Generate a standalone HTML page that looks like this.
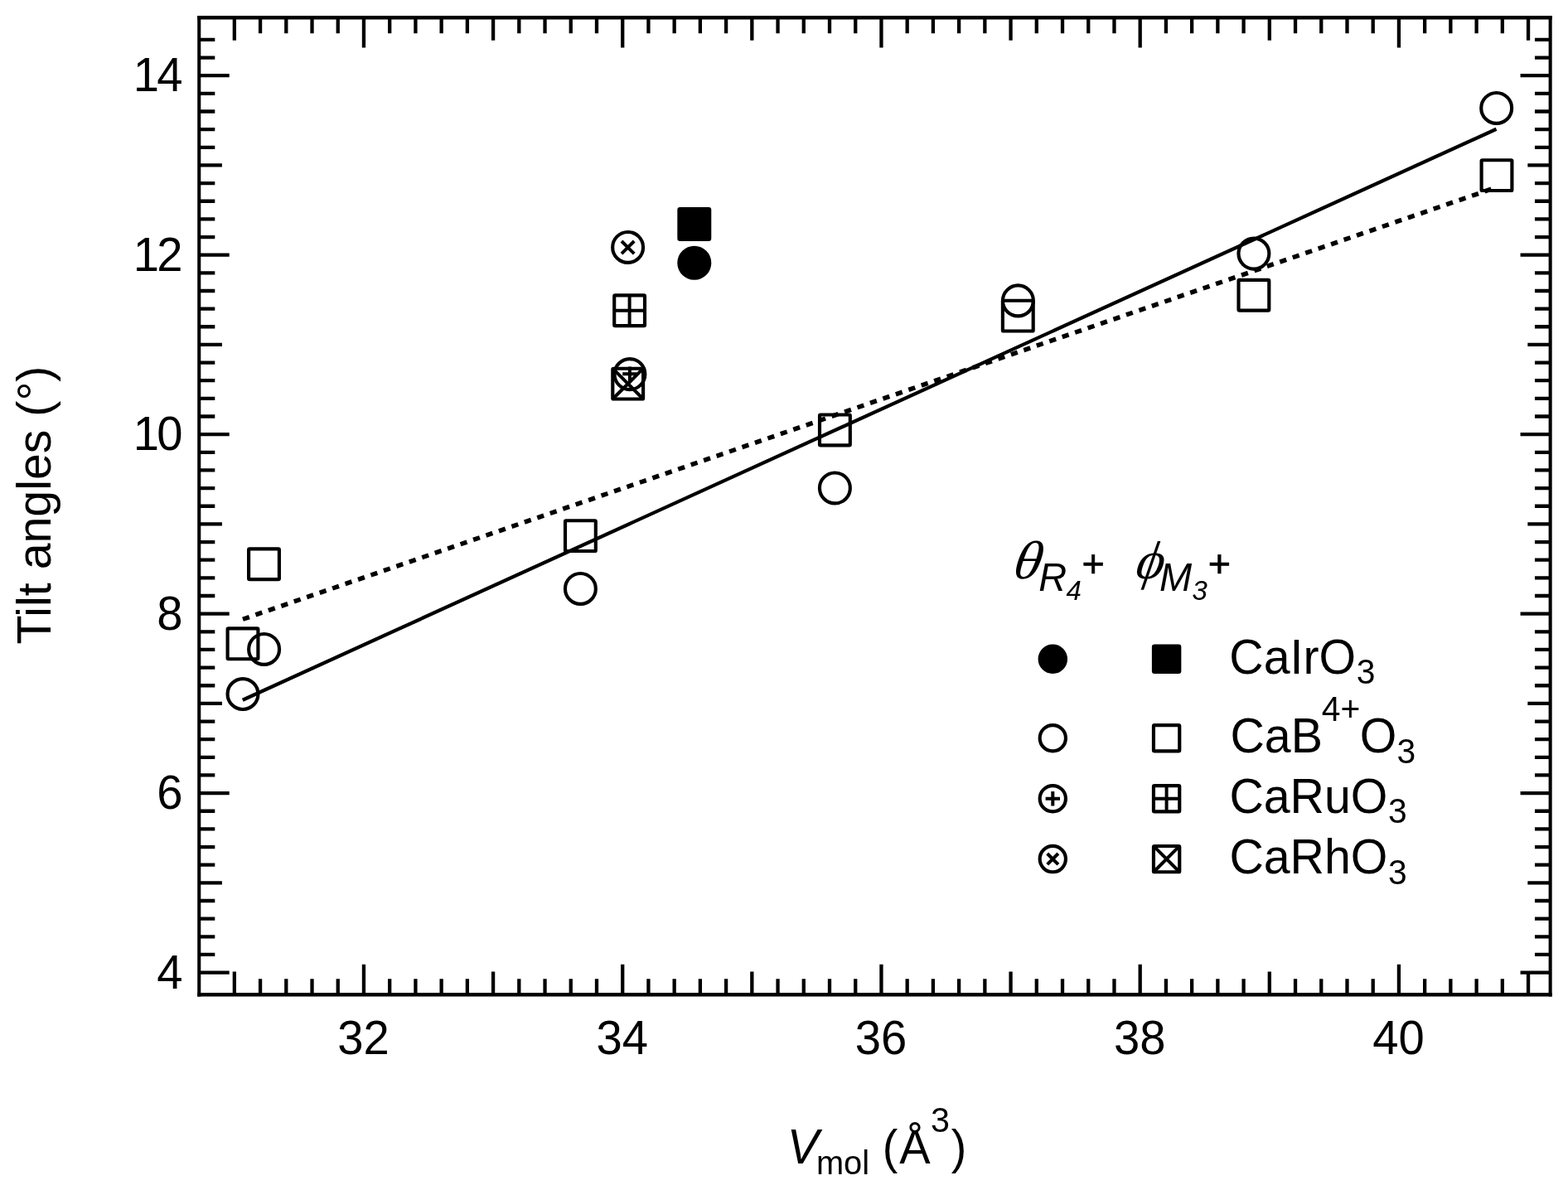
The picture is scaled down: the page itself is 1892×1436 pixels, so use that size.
<!DOCTYPE html>
<html lang="en">
<head>
<meta charset="utf-8">
<title>Tilt angles vs molar volume</title>
<style>
html,body{margin:0;padding:0;background:#fff;}
body{width:1892px;height:1436px;overflow:hidden;}
svg{display:block;}
text{font-family:"Liberation Sans",sans-serif;fill:#000;}
.it{font-style:italic;}
.gr{font-family:"Liberation Serif",serif;}
.pl{stroke:#000;stroke-width:0.7px;}
.fh{fill:none;stroke:#000;stroke-width:4.4;}
.fv{fill:none;stroke:#000;stroke-width:4.05;}
.tk{fill:none;stroke:#000;stroke-width:4.3;}
.ln{stroke:#000;stroke-width:4.3;}
.dt{stroke:#000;stroke-width:5.5;stroke-dasharray:8.3 8.04;}
.mo{fill:none;stroke:#000;stroke-width:4.15;stroke-linejoin:round;}
.mf{fill:#000;stroke:#000;stroke-width:4.15;stroke-linejoin:round;}
.mi{fill:none;stroke:#000;stroke-width:4.0;}
</style>
</head>
<body>
<svg width="1892" height="1436" viewBox="0 0 1892 1436" role="img" aria-label="Tilt angles versus molar volume">
<rect x="0" y="0" width="1892" height="1436" fill="#fff"/>
<path class="tk" d="M282.85 1200.25V1172.6M282.85 21.25V48.75M314.07 1200.25V1181.2M314.07 21.25V40.15M345.3 1200.25V1181.2M345.3 21.25V40.15M376.52 1200.25V1181.2M376.52 21.25V40.15M407.75 1200.25V1181.2M407.75 21.25V40.15M438.97 1200.25V1163.8M438.97 21.25V57.55M470.19 1200.25V1181.2M470.19 21.25V40.15M501.42 1200.25V1181.2M501.42 21.25V40.15M532.64 1200.25V1181.2M532.64 21.25V40.15M563.87 1200.25V1181.2M563.87 21.25V40.15M595.09 1200.25V1172.6M595.09 21.25V48.75M626.31 1200.25V1181.2M626.31 21.25V40.15M657.54 1200.25V1181.2M657.54 21.25V40.15M688.76 1200.25V1181.2M688.76 21.25V40.15M719.99 1200.25V1181.2M719.99 21.25V40.15M751.21 1200.25V1163.8M751.21 21.25V57.55M782.43 1200.25V1181.2M782.43 21.25V40.15M813.66 1200.25V1181.2M813.66 21.25V40.15M844.88 1200.25V1181.2M844.88 21.25V40.15M876.11 1200.25V1181.2M876.11 21.25V40.15M907.33 1200.25V1172.6M907.33 21.25V48.75M938.55 1200.25V1181.2M938.55 21.25V40.15M969.78 1200.25V1181.2M969.78 21.25V40.15M1001 1200.25V1181.2M1001 21.25V40.15M1032.23 1200.25V1181.2M1032.23 21.25V40.15M1063.45 1200.25V1163.8M1063.45 21.25V57.55M1094.67 1200.25V1181.2M1094.67 21.25V40.15M1125.9 1200.25V1181.2M1125.9 21.25V40.15M1157.12 1200.25V1181.2M1157.12 21.25V40.15M1188.35 1200.25V1181.2M1188.35 21.25V40.15M1219.57 1200.25V1172.6M1219.57 21.25V48.75M1250.79 1200.25V1181.2M1250.79 21.25V40.15M1282.02 1200.25V1181.2M1282.02 21.25V40.15M1313.24 1200.25V1181.2M1313.24 21.25V40.15M1344.47 1200.25V1181.2M1344.47 21.25V40.15M1375.69 1200.25V1163.8M1375.69 21.25V57.55M1406.91 1200.25V1181.2M1406.91 21.25V40.15M1438.14 1200.25V1181.2M1438.14 21.25V40.15M1469.36 1200.25V1181.2M1469.36 21.25V40.15M1500.59 1200.25V1181.2M1500.59 21.25V40.15M1531.81 1200.25V1172.6M1531.81 21.25V48.75M1563.03 1200.25V1181.2M1563.03 21.25V40.15M1594.26 1200.25V1181.2M1594.26 21.25V40.15M1625.48 1200.25V1181.2M1625.48 21.25V40.15M1656.71 1200.25V1181.2M1656.71 21.25V40.15M1687.93 1200.25V1163.8M1687.93 21.25V57.55M1719.15 1200.25V1181.2M1719.15 21.25V40.15M1750.38 1200.25V1181.2M1750.38 21.25V40.15M1781.6 1200.25V1181.2M1781.6 21.25V40.15M1812.83 1200.25V1181.2M1812.83 21.25V40.15M1844.05 1200.25V1172.6M1844.05 21.25V48.75M240.25 1173.6H276.7M1870.65 1173.6H1834.55M240.25 1151.95H259.3M1870.65 1151.95H1851.95M240.25 1130.3H259.3M1870.65 1130.3H1851.95M240.25 1108.66H259.3M1870.65 1108.66H1851.95M240.25 1087.01H259.3M1870.65 1087.01H1851.95M240.25 1065.36H267.9M1870.65 1065.36H1843.35M240.25 1043.71H259.3M1870.65 1043.71H1851.95M240.25 1022.06H259.3M1870.65 1022.06H1851.95M240.25 1000.42H259.3M1870.65 1000.42H1851.95M240.25 978.77H259.3M1870.65 978.77H1851.95M240.25 957.12H276.7M1870.65 957.12H1834.55M240.25 935.47H259.3M1870.65 935.47H1851.95M240.25 913.82H259.3M1870.65 913.82H1851.95M240.25 892.18H259.3M1870.65 892.18H1851.95M240.25 870.53H259.3M1870.65 870.53H1851.95M240.25 848.88H267.9M1870.65 848.88H1843.35M240.25 827.23H259.3M1870.65 827.23H1851.95M240.25 805.58H259.3M1870.65 805.58H1851.95M240.25 783.94H259.3M1870.65 783.94H1851.95M240.25 762.29H259.3M1870.65 762.29H1851.95M240.25 740.64H276.7M1870.65 740.64H1834.55M240.25 718.99H259.3M1870.65 718.99H1851.95M240.25 697.34H259.3M1870.65 697.34H1851.95M240.25 675.7H259.3M1870.65 675.7H1851.95M240.25 654.05H259.3M1870.65 654.05H1851.95M240.25 632.4H267.9M1870.65 632.4H1843.35M240.25 610.75H259.3M1870.65 610.75H1851.95M240.25 589.1H259.3M1870.65 589.1H1851.95M240.25 567.46H259.3M1870.65 567.46H1851.95M240.25 545.81H259.3M1870.65 545.81H1851.95M240.25 524.16H276.7M1870.65 524.16H1834.55M240.25 502.51H259.3M1870.65 502.51H1851.95M240.25 480.86H259.3M1870.65 480.86H1851.95M240.25 459.22H259.3M1870.65 459.22H1851.95M240.25 437.57H259.3M1870.65 437.57H1851.95M240.25 415.92H267.9M1870.65 415.92H1843.35M240.25 394.27H259.3M1870.65 394.27H1851.95M240.25 372.62H259.3M1870.65 372.62H1851.95M240.25 350.98H259.3M1870.65 350.98H1851.95M240.25 329.33H259.3M1870.65 329.33H1851.95M240.25 307.68H276.7M1870.65 307.68H1834.55M240.25 286.03H259.3M1870.65 286.03H1851.95M240.25 264.38H259.3M1870.65 264.38H1851.95M240.25 242.74H259.3M1870.65 242.74H1851.95M240.25 221.09H259.3M1870.65 221.09H1851.95M240.25 199.44H267.9M1870.65 199.44H1843.35M240.25 177.79H259.3M1870.65 177.79H1851.95M240.25 156.14H259.3M1870.65 156.14H1851.95M240.25 134.5H259.3M1870.65 134.5H1851.95M240.25 112.85H259.3M1870.65 112.85H1851.95M240.25 91.2H276.7M1870.65 91.2H1834.55M240.25 69.55H259.3M1870.65 69.55H1851.95M240.25 47.9H259.3M1870.65 47.9H1851.95"/>
<path class="fh" d="M238.22 21.25H1872.68M238.22 1200.25H1872.68"/>
<path class="fv" d="M240.25 19.05V1202.45M1870.65 19.05V1202.45"/>
<line class="ln" x1="292.8" y1="844.68" x2="1805.5" y2="155.8"/>
<line class="dt" x1="293.0" y1="747.25" x2="1805.5" y2="226.1"/>
<circle class="mo" cx="293" cy="837.5" r="18.45"/>
<circle class="mo" cx="318.6" cy="783.4" r="18.45"/>
<circle class="mo" cx="700.4" cy="710.4" r="18.45"/>
<circle class="mo" cx="1007.4" cy="588.9" r="18.45"/>
<circle class="mo" cx="1228.4" cy="362.9" r="18.45"/>
<circle class="mo" cx="1512.9" cy="306.1" r="18.45"/>
<circle class="mo" cx="1805.7" cy="130.4" r="18.45"/>
<rect class="mo" x="274.6" y="758.4" width="36.8" height="36.8" rx="1.1"/>
<rect class="mo" x="300.1" y="662.35" width="36.8" height="36.8" rx="1.1"/>
<rect class="mo" x="682" y="628.2" width="36.8" height="36.8" rx="1.1"/>
<rect class="mo" x="989" y="500.5" width="36.8" height="36.8" rx="1.1"/>
<rect class="mo" x="1209.9" y="362.7" width="36.8" height="36.8" rx="1.1"/>
<rect class="mo" x="1494.5" y="337.8" width="36.8" height="36.8" rx="1.1"/>
<rect class="mo" x="1787.6" y="193.2" width="36.8" height="36.8" rx="1.1"/>
<circle class="mf" cx="837.8" cy="317.3" r="18.45"/>
<rect class="mf" x="819.4" y="252" width="36.8" height="36.8" rx="1.1"/>
<circle class="mo" cx="757.6" cy="298.45" r="18.45"/>
<path class="mi" d="M750 291L765.2 306.2M765.2 291L750 306.2"/>
<rect class="mo" x="741.2" y="356.4" width="36.8" height="36.8" rx="1.1"/>
<path class="mi" d="M741.2 374.8H778M759.6 356.4V393.2"/>
<circle class="mo" cx="759.9" cy="451.6" r="18.45"/>
<path class="mi" d="M751.2 451.3H768.6M759.9 442.6V460"/>
<rect class="mo" x="739.3" y="444.7" width="36.8" height="36.8" rx="1.1"/>
<path class="mi" d="M739.3 444.7L776.1 481.5M776.1 444.7L739.3 481.5"/>
<circle class="mf" cx="1270.3" cy="795.2" r="15.65"/>
<rect class="mf" x="1391.95" y="779.55" width="31.3" height="31.3" rx="1.1"/>
<circle class="mo" cx="1270.3" cy="890.7" r="15.65"/>
<rect class="mo" x="1391.95" y="875.05" width="31.3" height="31.3" rx="1.1"/>
<circle class="mo" cx="1270.3" cy="963.7" r="15.65"/>
<path class="mi" d="M1261.6 963.7H1279M1270.3 955V972.4"/>
<rect class="mo" x="1391.95" y="948.05" width="31.3" height="31.3" rx="1.1"/>
<path class="mi" d="M1391.95 963.7H1423.25M1407.6 948.05V979.35"/>
<circle class="mo" cx="1270.3" cy="1036.6" r="15.65"/>
<path class="mi" d="M1263.7 1030L1276.9 1043.2M1276.9 1030L1263.7 1043.2"/>
<rect class="mo" x="1391.95" y="1020.95" width="31.3" height="31.3" rx="1.1"/>
<path class="mi" d="M1391.95 1020.95L1423.25 1052.25M1423.25 1020.95L1391.95 1052.25"/>
<text class="t" transform="translate(0 1271.85) scale(1 1.012)" x="407.31" font-size="56.2">32</text>
<text class="t" transform="translate(0 1271.85) scale(1 1.012)" x="719.55" font-size="56.2">34</text>
<text class="t" transform="translate(0 1271.85) scale(1 1.012)" x="1031.79" font-size="56.2">36</text>
<text class="t" transform="translate(0 1271.85) scale(1 1.012)" x="1344.03" font-size="56.2">38</text>
<text class="t" transform="translate(0 1271.85) scale(1 1.012)" x="1656.27" font-size="56.2">40</text>
<text class="t" transform="translate(0 1192.7) scale(1 1.012)" x="189.34" font-size="56.2">4</text>
<text class="t" transform="translate(0 976.22) scale(1 1.012)" x="189.34" font-size="56.2">6</text>
<text class="t" transform="translate(0 759.74) scale(1 1.012)" x="189.34" font-size="56.2">8</text>
<text class="t" transform="translate(0 543.26) scale(1 1.012)" font-size="56.2"><tspan x="160.69">1</tspan><tspan x="189.34">0</tspan></text>
<text class="t" transform="translate(0 326.78) scale(1 1.012)" font-size="56.2"><tspan x="160.69">1</tspan><tspan x="189.34">2</tspan></text>
<text class="t" transform="translate(0 110.3) scale(1 1.012)" font-size="56.2"><tspan x="160.69">1</tspan><tspan x="189.34">4</tspan></text>
<text class="t" transform="translate(61.4 777.5) rotate(-90) scale(1 1.012)" font-size="57.3">Tilt angles (°)</text>
<text class="t" transform="translate(0 1404.3) scale(1 1.034)"><tspan class="it" x="949.65" y="0" font-size="57.3">V</tspan><tspan x="984.96" y="11.99" font-size="39.8">mol</tspan><tspan x="1049.2" y="0" font-size="55.6"> (</tspan><tspan x="1085.19" y="0" font-size="56">Å</tspan><tspan x="1123.03" y="-37.52" font-size="41.3">3</tspan><tspan x="1147.67" y="0" font-size="55.6">)</tspan></text>
<text class="t" transform="translate(0 812.7) scale(1 1.034)"><tspan x="1483.29" y="0" font-size="57.3">CaIrO</tspan><tspan x="1636.85" y="12.28" font-size="40.8">3</tspan></text>
<text class="t" transform="translate(0 908.3) scale(1 1.034)"><tspan x="1484.49" y="0" font-size="57.3">CaB</tspan><tspan x="1594.76" y="-37.33" font-size="40.8">4+</tspan><tspan x="1640.69" y="0" font-size="57.3">O</tspan><tspan x="1685.45" y="12.28" font-size="40.8">3</tspan></text>
<text class="t" transform="translate(0 980.6) scale(1 1.034)"><tspan x="1483.39" y="0" font-size="57.3">CaRuO</tspan><tspan x="1675.05" y="12.28" font-size="40.8">3</tspan></text>
<text class="t" transform="translate(0 1054.1) scale(1 1.034)"><tspan x="1483.39" y="0" font-size="57.3">CaRhO</tspan><tspan x="1675.05" y="12.28" font-size="40.8">3</tspan></text>
<text class="gr" transform="translate(1218 698.4) skewX(-19) scale(1.07 1)" font-size="65">θ</text>
<text class="t it" transform="translate(1253.2 713.3) scale(1 1.034)" font-size="47">R</text>
<text class="t it" transform="translate(1286.5 724) scale(1 1.034)" font-size="33">4</text>
<text class="t pl" transform="translate(1305.61 695.6)" font-size="46.8">+</text>
<text class="gr" transform="translate(1366 698.3) skewX(-19)" font-size="65">ϕ</text>
<text class="t it" transform="translate(1399 713.3) scale(1 1.034)" font-size="47">M</text>
<text class="t it" transform="translate(1438.5 724) scale(1 1.034)" font-size="33">3</text>
<text class="t pl" transform="translate(1457.81 695.6)" font-size="46.8">+</text>
</svg>
</body>
</html>
